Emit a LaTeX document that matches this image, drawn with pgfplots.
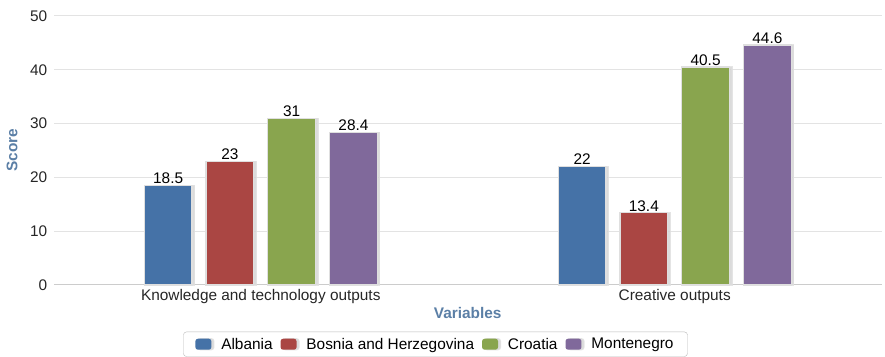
\documentclass[border=0pt]{standalone}
\usepackage{pgfplots}
\pgfplotsset{compat=1.18}
\usepackage{fontspec}
\setmainfont{Liberation Sans}
\usetikzlibrary{shadows}
\definecolor{cA}{HTML}{4572A7}
\definecolor{cB}{HTML}{AA4643}
\definecolor{cC}{HTML}{89A54E}
\definecolor{cD}{HTML}{80699B}
\definecolor{titlecol}{HTML}{5B7FA6}
\newcommand{\fs}{\fontsize{15.5}{18}\selectfont}
\begin{document}
\begin{tikzpicture}
\begin{axis}[
  scale only axis,
  width=831bp, height=270bp,
  ybar, bar width=48bp, ybar=14bp,
  xmin=-0.5, xmax=1.5,
  ymin=0, ymax=50,
  ytick={0,10,...,50},
  xtick={0,1},
  xticklabels={Knowledge and technology outputs, Creative outputs},
  major x tick style={draw=none},
  extra x ticks={-0.5,0.5,1.5},
  extra x tick labels={},
  extra x tick style={major tick length=5bp, tick align=outside, tick style={draw=gray!40, line width=0.8bp}, grid=none},
  axis x line*=bottom,
  axis y line*=left,
  y axis line style={draw=none},
  ytick style={draw=none},
  x axis line style={draw=gray!40, line width=1bp, -},
  ymajorgrids,
  grid style={gray!22, line width=1bp},
  tick label style={font=\fs, text=black!85},
  /pgf/number format/assume math mode=true,
  xticklabel style={yshift=3bp},
  yticklabel style={xshift=-3bp},
  ylabel={\bfseries Score},
  ylabel style={font=\fs, text=titlecol, at={(rel axis cs:0,0.5)}, anchor=center, yshift=42bp},
  xlabel={\bfseries Variables},
  xlabel style={font=\fs, text=titlecol, yshift=13bp},
  nodes near coords,
  every node near coord/.append style={font=\fs, text=black, inner sep=1bp, yshift=0bp},
  legend columns=-1,
  legend style={at={(axis description cs:0.461,-0.174)}, anchor=north, draw=gray!55, rounded corners=3bp,
    font=\fs, inner xsep=12bp, inner ysep=4bp,
    /tikz/every odd column/.append style={column sep=8bp},
    /tikz/every even column/.append style={column sep=6bp}},
  legend image code/.code={\draw[#1, draw=none, rounded corners=2.5bp] (0bp,-5.5bp) rectangle (16bp,5.5bp);},
  every axis plot/.append style={draw=gray!25, line width=1.2bp, drop shadow={shadow xshift=2.5bp, shadow yshift=0bp, fill=gray!35, opacity=0.8}},
  clip=false,
]
\addplot[fill=cA] coordinates {(0,18.5) (1,22)};
\addplot[fill=cB] coordinates {(0,23) (1,13.4)};
\addplot[fill=cC] coordinates {(0,31) (1,40.5)};
\addplot[fill=cD] coordinates {(0,28.4) (1,44.6)};
\legend{Albania, Bosnia and Herzegovina, Croatia, Montenegro}
\path (rel axis cs:0,1) -- ++(-54bp,16bp);
\end{axis}
\end{tikzpicture}
\end{document}
